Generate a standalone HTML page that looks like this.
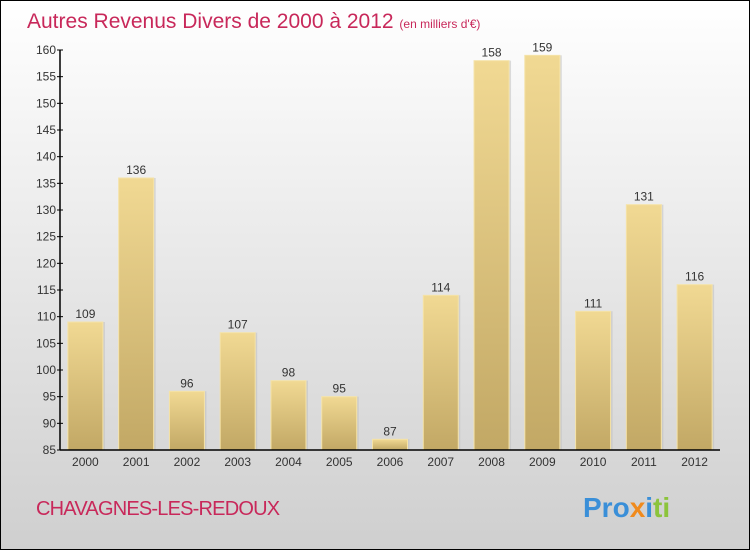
<!DOCTYPE html>
<html><head><meta charset="utf-8"><style>
body{margin:0}
#c{position:relative;width:750px;height:550px;box-sizing:border-box;border:1px solid #000;background:linear-gradient(#fff,#cfcfcf);font-family:"Liberation Sans",sans-serif;overflow:hidden}
</style></head><body>
<div id="c">
<svg id="s" width="750" height="550" style="position:absolute;left:-1px;top:-1px">
<defs>
<linearGradient id="g" x1="0" y1="0" x2="0" y2="1"><stop offset="0" stop-color="#f1d993"/><stop offset="1" stop-color="#c2a865"/></linearGradient>
</defs>
<text x="27" y="28" font-size="21" fill="#c8285a">Autres Revenus Divers de 2000 à 2012 <tspan font-size="12">(en milliers d'€)</tspan></text>
<text x="36" y="515" font-size="20" fill="#c8285a" letter-spacing="-0.8">CHAVAGNES-LES-REDOUX</text>
<text x="583" y="517" font-size="28" font-weight="bold"><tspan fill="#3a8fd8">Pro</tspan><tspan fill="#f08a1c">x</tspan><tspan fill="#3a8fd8">i</tspan><tspan fill="#8cc43c">ti</tspan></text>
<g id="plot"></g>
</svg>
</div>
<script>
const categories=["2000","2001","2002","2003","2004","2005","2006","2007","2008","2009","2010","2011","2012"];
const values=[109,136,96,107,98,95,87,114,158,159,111,131,116];
const yTicks=[85,90,95,100,105,110,115,120,125,130,135,140,145,150,155,160];
const X0=60,X1=720,Y0=450,Y1=50,vmin=85,vmax=160;
const slot=(X1-X0)/categories.length;
const y=v=>Y0-(v-vmin)/(vmax-vmin)*(Y0-Y1);
const x=i=>X0+slot*(i+0.5);
const p=document.getElementById('plot');
const NS='http://www.w3.org/2000/svg';
function mk(t,a){const e=document.createElementNS(NS,t);for(const k in a)e.setAttribute(k,a[k]);p.appendChild(e);return e;}
values.forEach((v,i)=>{
 const bw=35;
 const sh=mk('rect',{x:x(i)-bw/2+2,y:y(v),width:bw,height:Y0-y(v),fill:'#bbb',opacity:0.5});
 
 
 const r=mk('rect',{x:x(i)-bw/2,y:y(v),width:bw,height:Y0-y(v),fill:'url(#g)',stroke:'#f5e3a8','stroke-width':1});
 
 
 const t=mk('text',{x:x(i),y:y(v)-4,'font-size':12,fill:'#333','text-anchor':'middle'});
 t.textContent=v;
 
 
 const c=mk('text',{x:x(i),y:Y0+16,'font-size':12,fill:'#333','text-anchor':'middle'});
 c.textContent=categories[i];
 
 
});
yTicks.forEach(v=>{
 const l=mk('line',{x1:X0-3,x2:X0+3,y1:y(v),y2:y(v),stroke:'#000'});
 
 
 const t=mk('text',{x:X0-4,y:y(v)+4,'font-size':12,fill:'#333','text-anchor':'end'});
 t.textContent=v;
 
 
});
const ya=mk('line',{x1:X0,x2:X0,y1:Y1,y2:Y0,stroke:'#000','stroke-width':1.5});


const xa=mk('line',{x1:X0,x2:X1,y1:Y0,y2:Y0,stroke:'#000','stroke-width':1.5});


</script>
</body></html>
